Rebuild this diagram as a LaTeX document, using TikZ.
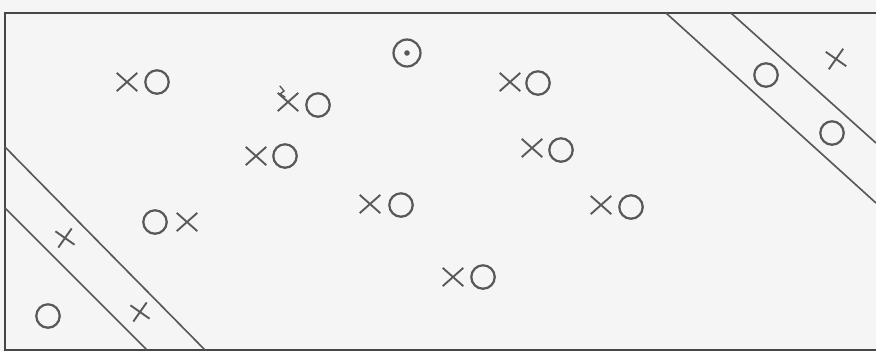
\documentclass[tikz,border=0pt]{standalone}
\usepackage{xcolor}
\usepackage{tikz}
\usetikzlibrary{shapes.misc}
\definecolor{inkgray}{RGB}{88,88,88}
\definecolor{papergray}{RGB}{245,245,245}

\begin{document}
\begin{tikzpicture}[
  x=0.03cm, y=-0.03cm,
  crossmark/.style={cross out, draw=inkgray, line width=1.6pt, inner sep=0pt, minimum width=16pt, minimum height=14pt},
  plusmark/.style={cross out, draw=inkgray, line width=1.6pt, inner sep=0pt, minimum size=12.5pt, rotate=10},
  ringmark/.style={circle, draw=inkgray, line width=1.9pt, inner sep=0pt, minimum size=20pt},
  bandline/.style={draw=inkgray, line width=1.4pt},
  framepen/.style={draw=inkgray!80!black, line width=1.9pt}
]

% paper and frame
\fill[papergray] (0,0) rectangle (876,351);
\useasboundingbox (0,0) rectangle (876,351);
\draw[framepen] (876,13) -- (5,13) -- (5,350) -- (876,350);

% --- cross / ring pairs ---
\foreach \n/\xa/\ya/\xb/\yb in {1/127/82/157/82, 2/288/102/318/105, 3/256/156/285/156,
    4/510/82/538/83, 5/532/148/561/150, 6/370/204/401/205, 7/453/277/483/277,
    8/601/205/631/207, 9/187/222/155/222}{
  \node[crossmark] (x\n) at (\xa,\ya) {};
  \node[ringmark] (o\n) at (\xb,\yb) {};
}

% small smudge above the second cross
\draw[inkgray, line width=1.2pt, line cap=round] (280,86) -- (284,91) -- (280,94) -- (285,97);

% dotted ring
\node[ringmark, minimum size=23pt] (dot) at (407,53) {};
\fill[inkgray] (dot.center) circle (2.8);

% --- lower left band ---
\draw[bandline] (5,147) -- (205,350);
\draw[bandline] (5,208) -- (147,350);
\node[plusmark] (p1) at (65,238) {};
\node[plusmark] (p2) at (140,312) {};
\node[ringmark] (o10) at (48,316) {};

% --- upper right band ---
\draw[bandline] (666,13) -- (876,203);
\draw[bandline] (731,13) -- (876,143);
\node[ringmark] (o11) at (766,75) {};
\node[ringmark] (o12) at (832,133) {};
\node[plusmark, minimum size=13.5pt] (p3) at (836,59) {};

\end{tikzpicture}
\end{document}
